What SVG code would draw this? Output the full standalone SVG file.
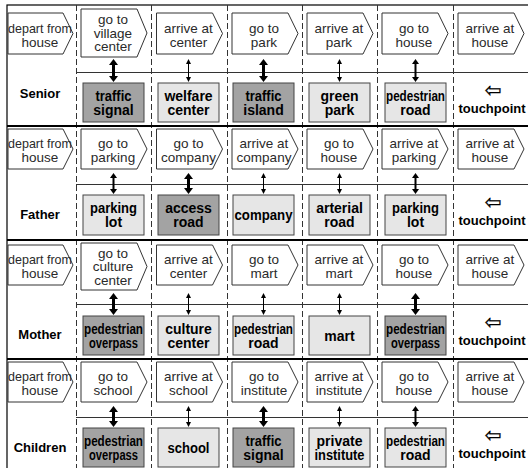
<svg xmlns="http://www.w3.org/2000/svg" width="528" height="468" viewBox="0 0 528 468">
<style>
.chev{fill:#fff;stroke:#333;stroke-width:1}
.act{font-family:"Liberation Sans",Arial,sans-serif;font-size:13.5px;fill:#2a2a2a;text-anchor:middle}
.box{stroke:#444;stroke-width:1}
.dark{fill:#a3a3a3}
.light{fill:#e6e6e6}
.tp{font-family:"Liberation Sans",Arial,sans-serif;font-size:14px;font-weight:bold;fill:#000;text-anchor:middle}
.tpl{font-family:"Liberation Sans",Arial,sans-serif;font-size:13px;font-weight:bold;fill:#000;text-anchor:middle}
.row{font-family:"Liberation Sans",Arial,sans-serif;font-size:13px;font-weight:bold;fill:#000;text-anchor:middle}
.sym{font-family:"DejaVu Sans",sans-serif;font-size:20px;fill:#000;stroke:#000;stroke-width:0.3;text-anchor:middle}
.dash{stroke:#333;stroke-width:1;stroke-dasharray:6 3}
.sep{stroke:#000;stroke-width:2}
.mid{stroke:#333;stroke-width:1}
.thick{stroke:#000;stroke-width:3;marker-start:url(#hThick);marker-end:url(#hThick)}
.med{stroke:#000;stroke-width:2;marker-start:url(#hMed);marker-end:url(#hMed)}
.thin{stroke:#000;stroke-width:1;marker-start:url(#hThin);marker-end:url(#hThin)}
</style>
<defs>
<marker id="hThick" viewBox="0 0 6 9" refX="1" refY="4.5" markerWidth="6" markerHeight="9" markerUnits="userSpaceOnUse" orient="auto-start-reverse"><path d="M0,0 L6,4.5 L0,9 z" fill="#000"/></marker>
<marker id="hMed" viewBox="0 0 5 7" refX="0" refY="3.5" markerWidth="5" markerHeight="7" markerUnits="userSpaceOnUse" orient="auto-start-reverse"><path d="M0,0 L5,3.5 L0,7 z" fill="#000"/></marker>
<marker id="hThin" viewBox="0 0 5 5" refX="0" refY="2.5" markerWidth="5" markerHeight="5" markerUnits="userSpaceOnUse" orient="auto-start-reverse"><path d="M0,0 L5,2.5 L0,5 z" fill="#000"/></marker>
</defs>
<rect x="0" y="0" width="528" height="468" fill="#fff"/>
<g id="grid">
<rect x="7" y="5" width="530" height="470" fill="none" stroke="#000" stroke-width="1.2"/>
<line class="dash" x1="76.5" y1="5" x2="76.5" y2="468"/>
<line class="dash" x1="151.5" y1="5" x2="151.5" y2="468"/>
<line class="dash" x1="227.5" y1="5" x2="227.5" y2="468"/>
<line class="dash" x1="302.5" y1="5" x2="302.5" y2="468"/>
<line class="dash" x1="377.5" y1="5" x2="377.5" y2="468"/>
<line class="dash" x1="453.5" y1="5" x2="453.5" y2="468"/>
<line class="mid" x1="76" y1="72.5" x2="528" y2="72.5"/>
<line class="mid" x1="76" y1="184.5" x2="528" y2="184.5"/>
<line class="mid" x1="76" y1="304.5" x2="528" y2="304.5"/>
<line class="mid" x1="76" y1="417.5" x2="528" y2="417.5"/>
<line class="sep" x1="7" y1="126" x2="528" y2="126"/>
<line class="sep" x1="7" y1="240" x2="528" y2="240"/>
<line class="sep" x1="7" y1="359" x2="528" y2="359"/>
</g>

<!-- Senior -->
<g id="senior-label"><text class="row" x="40" y="98">Senior</text></g>
<g id="s-a0"><polygon class="chev" points="8,13 63,13 73,33.5 63,54 8,54"/><text class="act" x="40" y="32.5" textLength="64" lengthAdjust="spacingAndGlyphs">depart from</text><text class="act" x="40" y="46.5">house</text></g>
<g id="s-a1"><polygon class="chev" points="81,9 137,9 147,33 137,57 81,57"/><text class="act" x="113" y="24">go to</text><text class="act" x="113" y="37.5">village</text><text class="act" x="113" y="51">center</text></g>
<g id="s-a2"><polygon class="chev" points="156.5,13 212.5,13 222.5,33.5 212.5,54 156.5,54"/><text class="act" x="188.5" y="32.5">arrive at</text><text class="act" x="188.5" y="46.5">center</text></g>
<g id="s-a3"><polygon class="chev" points="232,13 288,13 298,33.5 288,54 232,54"/><text class="act" x="264" y="32.5">go to</text><text class="act" x="264" y="46.5">park</text></g>
<g id="s-a4"><polygon class="chev" points="307,13 363,13 373,33.5 363,54 307,54"/><text class="act" x="339" y="32.5">arrive at</text><text class="act" x="339" y="46.5">park</text></g>
<g id="s-a5"><polygon class="chev" points="382,13 438,13 448,33.5 438,54 382,54"/><text class="act" x="414" y="32.5">go to</text><text class="act" x="414" y="46.5">house</text></g>
<g id="s-a6"><polygon class="chev" points="458,13 514,13 524,33.5 514,54 458,54"/><text class="act" x="490" y="32.5">arrive at</text><text class="act" x="490" y="46.5">house</text></g>
<g id="s-t1"><rect class="box dark" x="83" y="83" width="61" height="39"/><text class="tp" x="113.5" y="100.5" textLength="36" lengthAdjust="spacingAndGlyphs">traffic</text><text class="tp" x="113.5" y="114.5">signal</text></g>
<g id="s-t2"><rect class="box light" x="158" y="83" width="61" height="39"/><text class="tp" x="188.5" y="100.5">welfare</text><text class="tp" x="188.5" y="114.5">center</text></g>
<g id="s-t3"><rect class="box dark" x="233" y="83" width="61" height="39"/><text class="tp" x="263.5" y="100.5" textLength="36" lengthAdjust="spacingAndGlyphs">traffic</text><text class="tp" x="263.5" y="114.5">island</text></g>
<g id="s-t4"><rect class="box light" x="309" y="83" width="61" height="39"/><text class="tp" x="339.5" y="100.5">green</text><text class="tp" x="339.5" y="114.5">park</text></g>
<g id="s-t5"><rect class="box light" x="385" y="83" width="61" height="39"/><text class="tp" x="415.5" y="100.5" textLength="59" lengthAdjust="spacingAndGlyphs">pedestrian</text><text class="tp" x="415.5" y="114.5">road</text></g>
<g id="s-t6"><text class="sym" x="493" y="97">⇦</text><text class="tpl" x="492" y="113">touchpoint</text></g>

<!-- Father -->
<g id="father-label"><text class="row" x="40" y="219">Father</text></g>
<g id="f-a0"><polygon class="chev" points="8,129 63,129 73,149 63,169 8,169"/><text class="act" x="40" y="148" textLength="64" lengthAdjust="spacingAndGlyphs">depart from</text><text class="act" x="40" y="162">house</text></g>
<g id="f-a1"><polygon class="chev" points="81,129 137,129 147,149 137,169 81,169"/><text class="act" x="113" y="148">go to</text><text class="act" x="113" y="162">parking</text></g>
<g id="f-a2"><polygon class="chev" points="156.5,129 212.5,129 222.5,149 212.5,169 156.5,169"/><text class="act" x="188.5" y="148">go to</text><text class="act" x="188.5" y="162">company</text></g>
<g id="f-a3"><polygon class="chev" points="232,129 288,129 298,149 288,169 232,169"/><text class="act" x="264" y="148">arrive at</text><text class="act" x="264" y="162">company</text></g>
<g id="f-a4"><polygon class="chev" points="307,129 363,129 373,149 363,169 307,169"/><text class="act" x="339" y="148">go to</text><text class="act" x="339" y="162">house</text></g>
<g id="f-a5"><polygon class="chev" points="382,129 438,129 448,149 438,169 382,169"/><text class="act" x="414" y="148">arrive at</text><text class="act" x="414" y="162">parking</text></g>
<g id="f-a6"><polygon class="chev" points="458,129 514,129 524,149 514,169 458,169"/><text class="act" x="490" y="148">arrive at</text><text class="act" x="490" y="162">house</text></g>
<g id="f-t1"><rect class="box light" x="83" y="195" width="61" height="40"/><text class="tp" x="113.5" y="213" textLength="47" lengthAdjust="spacingAndGlyphs">parking</text><text class="tp" x="113.5" y="227">lot</text></g>
<g id="f-t2"><rect class="box dark" x="158" y="195" width="61" height="40"/><text class="tp" x="188.5" y="213">access</text><text class="tp" x="188.5" y="227">road</text></g>
<g id="f-t3"><rect class="box light" x="233" y="195" width="61" height="40"/><text class="tp" x="263.5" y="220" textLength="58" lengthAdjust="spacingAndGlyphs">company</text></g>
<g id="f-t4"><rect class="box light" x="309" y="195" width="61" height="40"/><text class="tp" x="339.5" y="213">arterial</text><text class="tp" x="339.5" y="227">road</text></g>
<g id="f-t5"><rect class="box light" x="385" y="195" width="61" height="40"/><text class="tp" x="415.5" y="213" textLength="47" lengthAdjust="spacingAndGlyphs">parking</text><text class="tp" x="415.5" y="227">lot</text></g>
<g id="f-t6"><text class="sym" x="493" y="209">⇦</text><text class="tpl" x="492" y="225">touchpoint</text></g>

<!-- Mother -->
<g id="mother-label"><text class="row" x="40" y="339">Mother</text></g>
<g id="m-a0"><polygon class="chev" points="8,245 63,245 73,265 63,285 8,285"/><text class="act" x="40" y="264" textLength="64" lengthAdjust="spacingAndGlyphs">depart from</text><text class="act" x="40" y="278">house</text></g>
<g id="m-a1"><polygon class="chev" points="81,243 137,243 147,266.5 137,290 81,290"/><text class="act" x="113" y="257.5">go to</text><text class="act" x="113" y="271">culture</text><text class="act" x="113" y="284.5">center</text></g>
<g id="m-a2"><polygon class="chev" points="156.5,245 212.5,245 222.5,265 212.5,285 156.5,285"/><text class="act" x="188.5" y="264">arrive at</text><text class="act" x="188.5" y="278">center</text></g>
<g id="m-a3"><polygon class="chev" points="232,245 288,245 298,265 288,285 232,285"/><text class="act" x="264" y="264">go to</text><text class="act" x="264" y="278">mart</text></g>
<g id="m-a4"><polygon class="chev" points="307,245 363,245 373,265 363,285 307,285"/><text class="act" x="339" y="264">arrive at</text><text class="act" x="339" y="278">mart</text></g>
<g id="m-a5"><polygon class="chev" points="382,245 438,245 448,265 438,285 382,285"/><text class="act" x="414" y="264">go to</text><text class="act" x="414" y="278">house</text></g>
<g id="m-a6"><polygon class="chev" points="458,245 514,245 524,265 514,285 458,285"/><text class="act" x="490" y="264">arrive at</text><text class="act" x="490" y="278">house</text></g>
<g id="m-t1"><rect class="box dark" x="83" y="316" width="61" height="39"/><text class="tp" x="113.5" y="333.5" textLength="59" lengthAdjust="spacingAndGlyphs">pedestrian</text><text class="tp" x="113.5" y="347.5" textLength="49" lengthAdjust="spacingAndGlyphs">overpass</text></g>
<g id="m-t2"><rect class="box light" x="158" y="316" width="61" height="39"/><text class="tp" x="188.5" y="333.5">culture</text><text class="tp" x="188.5" y="347.5">center</text></g>
<g id="m-t3"><rect class="box light" x="233" y="316" width="61" height="39"/><text class="tp" x="263.5" y="333.5" textLength="59" lengthAdjust="spacingAndGlyphs">pedestrian</text><text class="tp" x="263.5" y="347.5">road</text></g>
<g id="m-t4"><rect class="box light" x="309" y="316" width="61" height="39"/><text class="tp" x="339.5" y="340.5">mart</text></g>
<g id="m-t5"><rect class="box dark" x="385" y="316" width="61" height="39"/><text class="tp" x="415.5" y="333.5" textLength="59" lengthAdjust="spacingAndGlyphs">pedestrian</text><text class="tp" x="415.5" y="347.5" textLength="49" lengthAdjust="spacingAndGlyphs">overpass</text></g>
<g id="m-t6"><text class="sym" x="493" y="329">⇦</text><text class="tpl" x="492" y="345">touchpoint</text></g>

<!-- Children -->
<g id="children-label"><text class="row" x="40" y="452">Children</text></g>
<g id="c-a0"><polygon class="chev" points="8,362 63,362 73,382 63,402 8,402"/><text class="act" x="40" y="381" textLength="64" lengthAdjust="spacingAndGlyphs">depart from</text><text class="act" x="40" y="395">house</text></g>
<g id="c-a1"><polygon class="chev" points="81,362 137,362 147,382 137,402 81,402"/><text class="act" x="113" y="381">go to</text><text class="act" x="113" y="395">school</text></g>
<g id="c-a2"><polygon class="chev" points="156.5,362 212.5,362 222.5,382 212.5,402 156.5,402"/><text class="act" x="188.5" y="381">arrive at</text><text class="act" x="188.5" y="395">school</text></g>
<g id="c-a3"><polygon class="chev" points="232,362 288,362 298,382 288,402 232,402"/><text class="act" x="264" y="381">go to</text><text class="act" x="264" y="395">institute</text></g>
<g id="c-a4"><polygon class="chev" points="307,362 363,362 373,382 363,402 307,402"/><text class="act" x="339" y="381">arrive at</text><text class="act" x="339" y="395">institute</text></g>
<g id="c-a5"><polygon class="chev" points="382,362 438,362 448,382 438,402 382,402"/><text class="act" x="414" y="381">go to</text><text class="act" x="414" y="395">house</text></g>
<g id="c-a6"><polygon class="chev" points="458,362 514,362 524,382 514,402 458,402"/><text class="act" x="490" y="381">arrive at</text><text class="act" x="490" y="395">house</text></g>
<g id="c-t1"><rect class="box dark" x="83" y="428" width="61" height="39"/><text class="tp" x="113.5" y="445.5" textLength="59" lengthAdjust="spacingAndGlyphs">pedestrian</text><text class="tp" x="113.5" y="459.5" textLength="49" lengthAdjust="spacingAndGlyphs">overpass</text></g>
<g id="c-t2"><rect class="box light" x="158" y="428" width="61" height="39"/><text class="tp" x="188.5" y="452.5" textLength="42" lengthAdjust="spacingAndGlyphs">school</text></g>
<g id="c-t3"><rect class="box dark" x="233" y="428" width="61" height="39"/><text class="tp" x="263.5" y="445.5" textLength="36" lengthAdjust="spacingAndGlyphs">traffic</text><text class="tp" x="263.5" y="459.5">signal</text></g>
<g id="c-t4"><rect class="box light" x="309" y="428" width="61" height="39"/><text class="tp" x="339.5" y="445.5">private</text><text class="tp" x="339.5" y="459.5" textLength="50" lengthAdjust="spacingAndGlyphs">institute</text></g>
<g id="c-t5"><rect class="box light" x="385" y="428" width="61" height="39"/><text class="tp" x="415.5" y="445.5" textLength="59" lengthAdjust="spacingAndGlyphs">pedestrian</text><text class="tp" x="415.5" y="459.5">road</text></g>
<g id="c-t6"><text class="sym" x="493" y="442">⇦</text><text class="tpl" x="492" y="458">touchpoint</text></g>

<g id="connectors">
<line class="thick" x1="113.5" y1="64" x2="113.5" y2="77"/>
<line class="thin" x1="188.5" y1="64" x2="188.5" y2="77"/>
<line class="thick" x1="263.5" y1="64" x2="263.5" y2="77"/>
<line class="thin" x1="339.5" y1="64" x2="339.5" y2="77"/>
<line class="med" x1="415.5" y1="64" x2="415.5" y2="77"/>

<line class="med" x1="113.5" y1="178" x2="113.5" y2="189"/>
<line class="thick" x1="188.5" y1="178" x2="188.5" y2="189"/>
<line class="thin" x1="263.5" y1="178" x2="263.5" y2="189"/>
<line class="thin" x1="339.5" y1="178" x2="339.5" y2="189"/>
<line class="med" x1="415.5" y1="178" x2="415.5" y2="189"/>

<line class="thick" x1="113.5" y1="298" x2="113.5" y2="310"/>
<line class="thin" x1="188.5" y1="298" x2="188.5" y2="310"/>
<line class="thin" x1="263.5" y1="298" x2="263.5" y2="310"/>
<line class="thin" x1="339.5" y1="298" x2="339.5" y2="310"/>
<line class="thick" x1="415.5" y1="298" x2="415.5" y2="310"/>

<line class="thick" x1="113.5" y1="411" x2="113.5" y2="422"/>
<line class="thin" x1="188.5" y1="411" x2="188.5" y2="422"/>
<line class="thick" x1="263.5" y1="411" x2="263.5" y2="422"/>
<line class="thin" x1="339.5" y1="411" x2="339.5" y2="422"/>
<line class="med" x1="415.5" y1="411" x2="415.5" y2="422"/>
</g>
</svg>
